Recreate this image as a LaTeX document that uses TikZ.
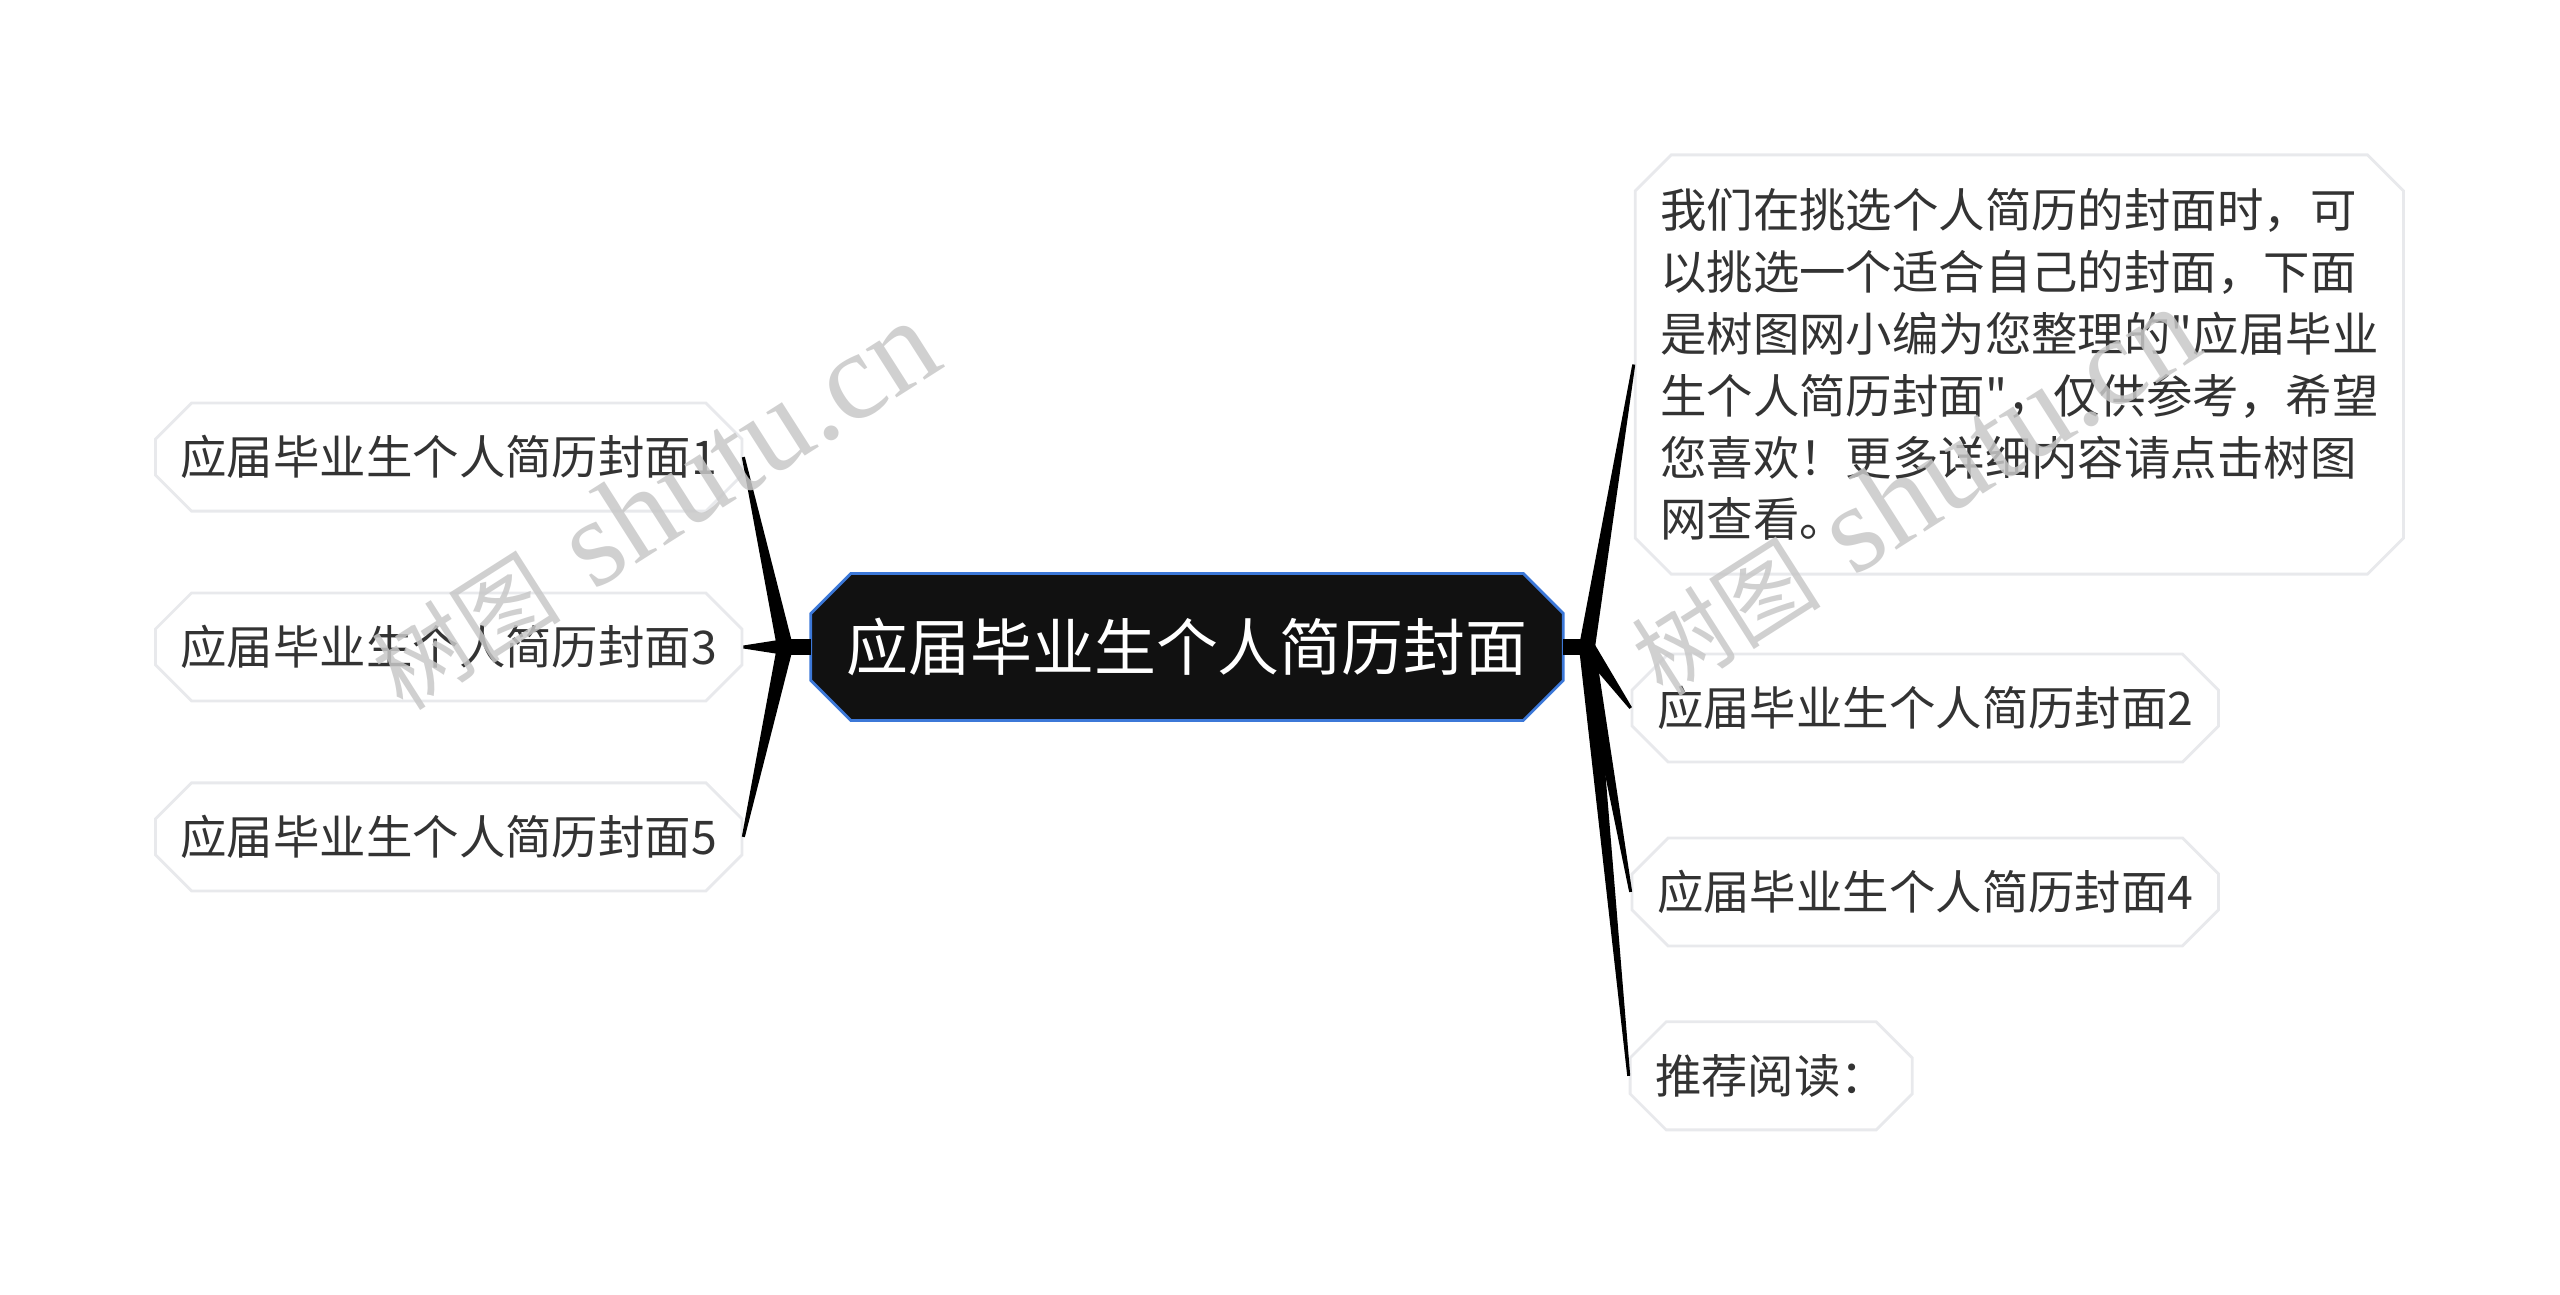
\documentclass[tikz,border=0pt]{standalone}
\usepackage{fontspec}
\setmainfont{Noto Sans CJK SC}
\newfontfamily\plaincjk{Noto Sans CJK SC}
\newfontfamily\wmlatin{Liberation Serif}
\usetikzlibrary{positioning}
\usetikzlibrary{calc}
\usetikzlibrary{shapes.misc}

\definecolor{rootfill}{HTML}{111111}
\definecolor{rootline}{HTML}{3C78D8}
\definecolor{leafline}{HTML}{E8E9EC}
\definecolor{leaftext}{HTML}{333333}
\definecolor{wmgray}{HTML}{C8C8C8}

% tapered branch from a junction to a topic
\newcommand{\branchspike}[2]{%
  \fill[branch] ($(#1)!0.08cm!90:(#2)$) -- ($(#2)!0.015cm!-90:(#1)$)
    -- ($(#2)!0.015cm!90:(#1)$) -- ($(#1)!0.08cm!-90:(#2)$) -- cycle;}

\begin{document}
\begin{tikzpicture}
		[x=0.01cm, y=-0.01cm,
		 root/.style={chamfered rectangle, chamfered rectangle sep=0.2cm, draw=rootline, line width=0.8pt, fill=rootfill, text=white, font=\plaincjk\fontsize{17.6pt}{20pt}\selectfont, minimum width=7.52cm, minimum height=1.47cm, inner sep=0pt},
		 leaf/.style={chamfered rectangle, chamfered rectangle sep=0.18cm, draw=leafline, line width=0.8pt, fill=white, text=leaftext, font=\plaincjk\fontsize{13.2pt}{17.6pt}\selectfont, minimum height=1.08cm, inner xsep=0.07cm, inner ysep=0pt},
		 branch/.style={fill=black},
		 wmark/.style={text=wmgray, text opacity=0.85, rotate=32.5, inner sep=0pt}]
		\useasboundingbox (0,0) rectangle (2560,1295);

		\node[root] (root) at (1187,647) {应届毕业生个人简历封面};
		\node[leaf, left=0.66cm of root] (n3) {应届毕业生个人简历封面3};
		\node[leaf, above=0.79cm of n3] (n1) {应届毕业生个人简历封面1};
		\node[leaf, below=0.79cm of n3] (n5) {应届毕业生个人简历封面5};
		\node[leaf, right=0.66cm of root, yshift=-0.61cm] (n2) {应届毕业生个人简历封面2};
		\node[leaf, below=0.73cm of n2] (n4) {应届毕业生个人简历封面4};
		\node[leaf, below=0.73cm of n4, xshift=-1.54cm] (rec) {推荐阅读：};
		\node[leaf, above=0.77cm of n2, xshift=0.94cm, align=left, minimum width=7.43cm, minimum height=4.19cm] (intro)
			{我们在挑选个人简历的封面时，可\\以挑选一个适合自己的封面，下面\\是树图网小编为您整理的"应届毕业\\生个人简历封面"，仅供参考，希望\\您喜欢！更多详细内容请点击树图\\网查看。};

		\coordinate (lj) at (785,647);
		\coordinate (rj) at (1587,647);
		\fill[branch] ($(lj)+(0,-8)$) rectangle ($(root.west)+(2,8)$);
		\fill[branch] ($(root.east)+(-2,-8)$) rectangle ($(rj)+(0,8)$);
		\branchspike{lj}{n1.east}
		\branchspike{lj}{n3.east}
		\branchspike{lj}{n5.east}
		\branchspike{rj}{intro.west}
		\branchspike{rj}{n2.west}
		\branchspike{rj}{n4.west}
		\branchspike{rj}{rec.west}

		\node[wmark] (wm1) at (654,506) {{\plaincjk\fontsize{27pt}{30pt}\selectfont 树图}\hspace{0.35cm}{\wmlatin\fontsize{35.5pt}{40pt}\selectfont shutu.cn}};
		\node[wmark] (wm2) at (1914,492) {{\plaincjk\fontsize{27pt}{30pt}\selectfont 树图}\hspace{0.35cm}{\wmlatin\fontsize{35.5pt}{40pt}\selectfont shutu.cn}};
	\end{tikzpicture}
\end{document}
